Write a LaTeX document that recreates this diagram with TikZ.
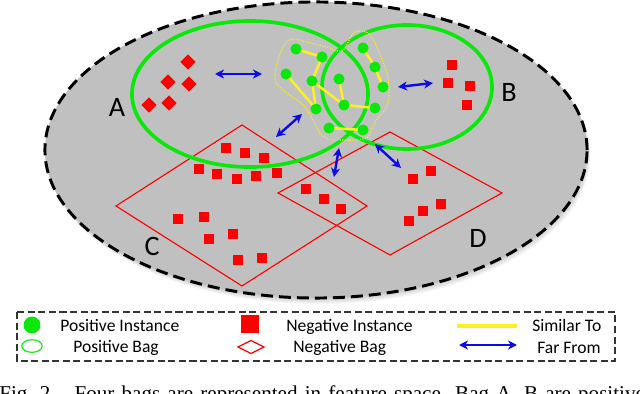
\documentclass[tikz,border=0pt]{standalone}
\usepackage{fontspec}
\setmainfont{Carlito}
\newfontfamily\capfont{Liberation Serif}
\usetikzlibrary{arrows.meta,shapes.geometric}
\definecolor{bggray}{RGB}{192,192,192}
\definecolor{pgreen}{RGB}{10,232,10}
\definecolor{nred}{RGB}{255,0,0}
\definecolor{fblue}{RGB}{10,10,235}
\definecolor{syellow}{RGB}{250,240,40}
\begin{document}
\begin{tikzpicture}[x=0.025cm,y=-0.025cm,
  posinst/.style={circle,fill=pgreen,inner sep=0pt,minimum size=7.7pt},
  neginst/.style={rectangle,fill=nred,inner sep=0pt,minimum size=7.7pt},
  negrot/.style={neginst,rotate=45},
  posbag/.style={draw=pgreen,line width=2.6pt},
  negbag/.style={draw=nred,line width=0.8pt,line join=miter},
  similar/.style={draw=syellow,line width=1.8pt},
  farfrom/.style={draw=fblue,line width=1.7pt,{Stealth[length=6.5pt,width=6.5pt]}-{Stealth[length=6.5pt,width=6.5pt]}},
  baglabel/.style={font=\fontsize{20}{22}\selectfont,inner sep=0pt},
  legtext/.style={font=\fontsize{12.5}{14}\selectfont,inner sep=0pt,anchor=base west},
  legbox/.style={draw=black!80,line width=0.9pt,dash pattern=on 5pt off 2.5pt},
]
\useasboundingbox (0,0) rectangle (640,394);
\clip (0,0) rectangle (640,394);
% feature space
\foreach \s in {1,...,5}
  \fill[black,opacity=0.04] (316+0.6*\s,150+1.2*\s) ellipse [x radius=6.775cm, y radius=3.7cm];
\fill[bggray] (316,150) ellipse [x radius=6.775cm, y radius=3.7cm];
\draw[black,line width=2.1pt,dash pattern=on 8.5pt off 4.3pt] (316,150) ellipse [x radius=6.775cm, y radius=3.7cm];
% negative bags
\draw[negbag] (242,125) -- (367,206) -- (242,286) -- (116,206) -- cycle;
\draw[negbag] (390,132) -- (502,193) -- (390,255) -- (278,193) -- cycle;
% positive bags
\draw[posbag] (250,94) ellipse [x radius=2.95cm, y radius=1.825cm];
\draw[posbag] (407,87) ellipse [x radius=2.125cm, y radius=1.55cm];
% similar region outline
\draw[syellow,line width=0.8pt,densely dotted] plot[smooth cycle,tension=0.55] coordinates
  {(292,39) (310,43) (327,47) (342,51) (352,35) (358,31) (368,33) (375,43) (383,62) (388,77) (389,97) (385,110) (378,118) (372,128) (368,137) (357,140) (342,140) (328,139) (320,133) (313,120) (303,105) (283,90) (275,80) (277,63) (283,47)};
% positive instances
\node[posinst] (p1) at (296,49) {};
\node[posinst] (p2) at (322,57) {};
\node[posinst] (p3) at (286,74) {};
\node[posinst] (p4) at (312,81) {};
\node[posinst] (p5) at (339,79) {};
\node[posinst] (p6) at (316,109) {};
\node[posinst] (p7) at (344,105) {};
\node[posinst] (p8) at (375,108) {};
\node[posinst] (p9) at (329,128) {};
\node[posinst] (p10) at (363,130) {};
\node[posinst] (p11) at (363,48) {};
\node[posinst] (p12) at (375,67) {};
\node[posinst] (p13) at (383,87) {};
\foreach \a/\b in {p1/p2,p2/p4,p3/p6,p4/p6,p4/p7,p5/p7,p7/p8,p9/p10,p11/p12,p12/p13}
  \draw[similar] (\a.center) -- (\b.center);
\foreach \n in {p1,p2,p3,p4,p5,p6,p7,p8,p9,p10,p11,p12,p13}
  \node[posinst] at (\n) {};
% negative instances
\foreach \p [count=\i] in {(188,62),(168,82),(189,84),(149,105),(169,103)}
  \node[negrot] (na\i) at \p {};
\foreach \p [count=\i] in {(452,65),(448,83),(470,86),(467,105)}
  \node[neginst] (nb\i) at \p {};
\foreach \p [count=\i] in {(226,148),(245,153),(264,158),(199,169),(217,174),(237,179),(256,176),(277,173),(178,219),(204,217),(209,239),(233,234),(238,260),(262,258)}
  \node[neginst] (nc\i) at \p {};
\foreach \p [count=\i] in {(306,189),(324,199),(341,209)}
  \node[neginst] (ncd\i) at \p {};
\foreach \p [count=\i] in {(413,179),(431,171),(441,204),(423,211),(409,221)}
  \node[neginst] (nd\i) at \p {};
% far-from arrows
\coordinate (f1a) at (215,74);  \coordinate (f1b) at (262,74);
\coordinate (f2a) at (276,137); \coordinate (f2b) at (302,114);
\coordinate (f3a) at (398,87);  \coordinate (f3b) at (433,83);
\coordinate (f4a) at (339,148); \coordinate (f4b) at (334,177);
\coordinate (f5a) at (375,144); \coordinate (f5b) at (401,168);
\foreach \a/\b in {f1a/f1b,f2a/f2b,f3a/f3b,f4a/f4b,f5a/f5b}
  \draw[farfrom] (\a) -- (\b);
% bag labels
\node[baglabel] (lA) at (117,107) {A};
\node[baglabel] (lB) at (509,92) {B};
\node[baglabel] (lC) at (152,246) {C};
\node[baglabel] (lD) at (478,238) {D};
% legend
\draw[legbox] (17,312) rectangle (615,361);
\node[circle,fill=pgreen,inner sep=0pt,minimum size=12pt] (lgpi) at (32,325) {};
\node[ellipse,draw=pgreen,line width=0.8pt,inner sep=0pt,minimum width=14.5pt,minimum height=9pt] (lgpb) at (32,346) {};
\node[rectangle,fill=nred,inner sep=0pt,minimum size=12.8pt] (lgni) at (250,324) {};
\draw[nred,line width=0.8pt] (238,347) -- (251,340.5) -- (264,347) -- (251,353.5) -- cycle;
\coordinate (ly1) at (457,326); \coordinate (ly2) at (517,326);
\draw[similar,line width=2.2pt] (ly1) -- (ly2);
\coordinate (lf1) at (459,345); \coordinate (lf2) at (517,345);
\draw[farfrom] (lf1) -- (lf2);
\node[legtext] (tpi) at (60,331) {Positive Instance};
\node[legtext] (tpb) at (73,352.5) {Positive Bag};
\node[legtext] (tni) at (286,331) {Negative Instance};
\node[legtext] (tnb) at (293,352.5) {Negative Bag};
\node[legtext] (tst) at (532,331.5) {Similar To};
\node[legtext] (tff) at (537,353) {Far From};
% caption (cut off at the bottom edge, as in the reference)
\node[anchor=base west,inner sep=0pt,font=\capfont\fontsize{15}{17}\selectfont] (cap) at (-1,400)
  {\spaceskip=0.34em\relax Fig.~2.\hspace{0.9em}Four bags are represented in feature space. Bag A, B are positive};
\end{tikzpicture}
\end{document}
